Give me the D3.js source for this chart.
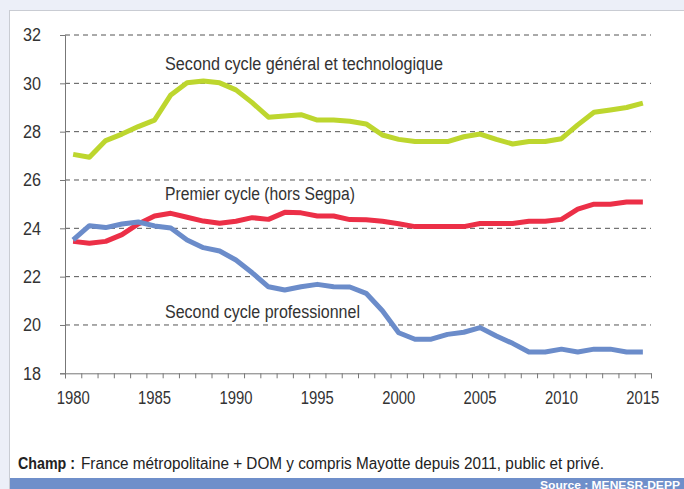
<!DOCTYPE html>
<html><head><meta charset="utf-8">
<script src="https://cdn.jsdelivr.net/npm/d3@7"></script>
<style>
html,body{margin:0;padding:0;background:#eceff8;}
svg{display:block;}
text{font-family:"Liberation Sans",Arial,sans-serif;}
</style></head>
<body><svg id="c" width="684" height="489"></svg>
<script>
const years = d3.range(1980, 2016);
const generalTechno = [27.06,26.94,27.63,27.9,28.21,28.48,29.52,30.02,30.1,30.02,29.73,29.2,28.6,28.65,28.7,28.48,28.48,28.43,28.32,27.86,27.68,27.59,27.59,27.59,27.79,27.9,27.68,27.49,27.59,27.59,27.71,28.28,28.8,28.9,29.0,29.18];
const premierCycle = [23.46,23.38,23.46,23.74,24.18,24.51,24.62,24.46,24.3,24.21,24.29,24.44,24.37,24.66,24.64,24.51,24.51,24.36,24.35,24.29,24.19,24.07,24.07,24.07,24.07,24.2,24.2,24.2,24.29,24.29,24.37,24.79,25.0,25.0,25.09,25.09];
const professionnel = [23.52,24.11,24.03,24.18,24.26,24.1,24.01,23.52,23.2,23.06,22.69,22.16,21.58,21.45,21.58,21.68,21.58,21.57,21.31,20.59,19.68,19.41,19.41,19.61,19.7,19.89,19.54,19.24,18.88,18.88,19.0,18.88,19.0,19.0,18.88,18.88];
const yTicks = [18,20,22,24,26,28,30,32];
const xLabels = [1980,1985,1990,1995,2000,2005,2010,2015];
const seriesNames = ["Second cycle général et technologique","Premier cycle (hors Segpa)","Second cycle professionnel"];
const footnoteBold = "Champ :";
const footnoteText = "France métropolitaine + DOM y compris Mayotte depuis 2011, public et privé.";
const sourceText = "Source : MENESR-DEPP";

const svg = d3.select("#c");
svg.append("rect").attr("x",9.5).attr("y",10.5).attr("width",700).attr("height",490)
  .attr("fill","#fff").attr("stroke","#c9ccd3").attr("stroke-width",1);
svg.append("rect").attr("x",10).attr("y",478).attr("width",674).attr("height",11).attr("fill","#6f8fca");

const pL=65, pR=651, pT=35, pB=373.3;
const x = d3.scaleBand().domain(years).range([pL,pR]).paddingInner(0).paddingOuter(0);
const bw = x.bandwidth();
const xc = d => x(d)+bw/2;
const y = d3.scaleLinear().domain([18,32]).range([pB,pT]);

svg.append("g").selectAll("line").data(yTicks.filter(v=>v>18)).join("line")
  .attr("x1",pL).attr("x2",pR).attr("y1",d=>y(d)).attr("y2",d=>y(d))
  .attr("stroke","#555").attr("stroke-width",1).attr("stroke-dasharray","5,4");

const ya = svg.append("g").attr("transform",`translate(${pL},0)`)
  .call(d3.axisLeft(y).tickValues(yTicks).tickSize(5).tickPadding(19).tickFormat(d3.format("d")));
ya.select(".domain").attr("stroke","#777");
ya.selectAll(".tick line").attr("stroke","#777");
ya.selectAll("text").attr("font-size",18).attr("fill","#333").attr("font-family",null)
  .attr("textLength",18).attr("lengthAdjust","spacingAndGlyphs");

const xb = d3.scaleLinear().domain([0,years.length]).range([pL,pR]);
const xa = svg.append("g").attr("transform",`translate(0,${pB})`)
  .call(d3.axisBottom(xb).tickValues(d3.range(0,years.length+1)).tickSize(5).tickFormat(""));
xa.select(".domain").attr("stroke","#777");
xa.selectAll(".tick line").attr("stroke","#777");
const xl = svg.append("g").attr("transform",`translate(0,${pB})`)
  .call(d3.axisBottom(x).tickValues(xLabels).tickSize(0).tickPadding(18));
xl.select(".domain").remove();
xl.selectAll("text").attr("font-size",18).attr("fill","#333").attr("font-family",null)
  .attr("textLength",33).attr("lengthAdjust","spacingAndGlyphs");

const line = d3.line().x((d,i)=>xc(years[i])).y(d=>y(d));
const colors = ["#bdd62e","#ec2f47","#6b8cca"];
[generalTechno,premierCycle,professionnel].forEach((s,k)=>{
  svg.append("path").datum(s).attr("d",line).attr("fill","none")
    .attr("stroke",colors[k]).attr("stroke-width",5).attr("stroke-linejoin","round");
});

const labY = [70,200,318];
const labW = [278,190,195];
seriesNames.forEach((n,i)=>{
  svg.append("text").attr("x",165).attr("y",labY[i]).attr("font-size",18).attr("fill","#333")
    .attr("textLength",labW[i]).attr("lengthAdjust","spacingAndGlyphs").text(n);
});

svg.append("text").attr("x",18).attr("y",469).attr("font-size",16).attr("font-weight","bold").attr("fill","#222")
  .attr("textLength",57).attr("lengthAdjust","spacingAndGlyphs").text(footnoteBold);
svg.append("text").attr("x",81).attr("y",469).attr("font-size",16).attr("fill","#222")
  .attr("textLength",523).attr("lengthAdjust","spacingAndGlyphs").text(footnoteText);
svg.append("text").attr("x",680).attr("y",488.5).attr("text-anchor","end").attr("font-size",11)
  .attr("font-weight","bold").attr("fill","#fff")
  .attr("textLength",140).attr("lengthAdjust","spacingAndGlyphs").text(sourceText);
</script></body></html>
